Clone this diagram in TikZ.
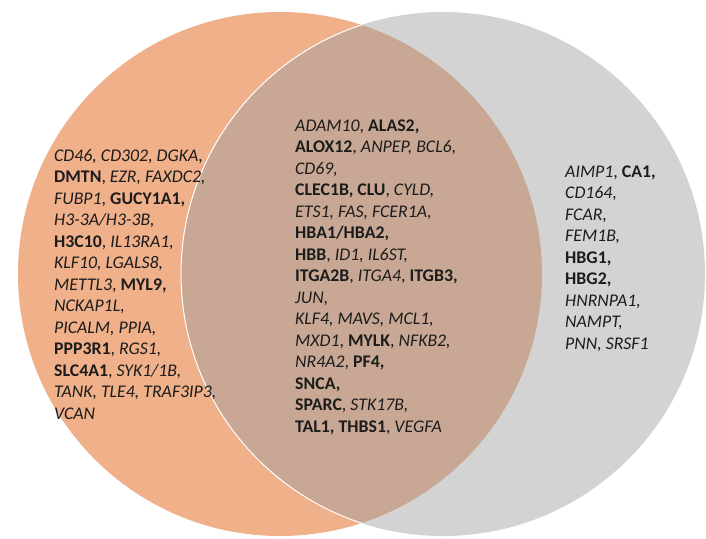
\documentclass[tikz,border=0pt]{standalone}
\usepackage{fontspec}
\setmainfont{Carlito}
\definecolor{orangeset}{RGB}{239,176,138}
\definecolor{grayset}{RGB}{211,211,211}
\definecolor{overlapset}{RGB}{200,168,148}
\definecolor{genetext}{RGB}{28,28,28}
\newcommand{\gi}[1]{\textit{#1}}
\newcommand{\gb}[1]{\textbf{#1}}
\begin{document}
\begin{tikzpicture}[x=1pt,y=-1pt,
  genes/.style={anchor=base west,align=left,text=genetext,inner sep=0pt,
    font=\fontsize{17.8}{21.5}\selectfont}]
\useasboundingbox (0,0) rectangle (706,538);
\fill[white] (0,0) rectangle (706,538);
\def\leftc{(280,274) circle[radius=262]}
\def\rightc{(443,274) circle[radius=262]}
\fill[orangeset] \leftc;
\fill[grayset] \rightc;
\begin{scope}
  \clip \leftc;
  \fill[overlapset] \rightc;
\end{scope}
\begin{scope}
  \clip \leftc;
  \draw[white,line width=1pt] \rightc;
\end{scope}
% base anchor of a multi-line node lies on its last line
\node[genes] (leftset) at (54,419) {%
\gi{CD46, CD302, DGKA,}\\
\gb{DMTN}, \gi{EZR, FAXDC2,}\\
\gi{FUBP1}, \gb{GUCY1A1,}\\
\gi{H3-3A/H3-3B,}\\
\gb{H3C10}, \gi{IL13RA1,}\\
\gi{KLF10, LGALS8,}\\
\gi{METTL3}, \gb{MYL9,}\\
\gi{NCKAP1L,}\\
\gi{PICALM, PPIA,}\\
\gb{PPP3R1}, \gi{RGS1,}\\
\gb{SLC4A1}, \gi{SYK1/1B,}\\
\gi{TANK, TLE4, TRAF3IP3,}\\
\gi{VCAN}};
\node[genes] (midset) at (295,432) {%
\gi{ADAM10}, \gb{ALAS2,}\\
\gb{ALOX12}, \gi{ANPEP, BCL6,}\\
\gi{CD69,}\\
\gb{CLEC1B, CLU}, \gi{CYLD,}\\
\gi{ETS1, FAS, FCER1A,}\\
\gb{HBA1/HBA2,}\\
\gb{HBB}, \gi{ID1, IL6ST,}\\
\gb{ITGA2B}, \gi{ITGA4}, \gb{ITGB3,}\\
\gi{JUN,}\\
\gi{KLF4, MAVS, MCL1,}\\
\gi{MXD1}, \gb{MYLK}, \gi{NFKB2,}\\
\gi{NR4A2}, \gb{PF4,}\\
\gb{SNCA,}\\
\gb{SPARC}, \gi{STK17B,}\\
\gb{TAL1, THBS1}, \gi{VEGFA}};
\node[genes] (rightset) at (565,349) {%
\gi{AIMP1}, \gb{CA1,}\\
\gi{CD164,}\\
\gi{FCAR,}\\
\gi{FEM1B,}\\
\gb{HBG1,}\\
\gb{HBG2,}\\
\gi{HNRNPA1,}\\
\gi{NAMPT,}\\
\gi{PNN, SRSF1}};
\end{tikzpicture}
\end{document}
